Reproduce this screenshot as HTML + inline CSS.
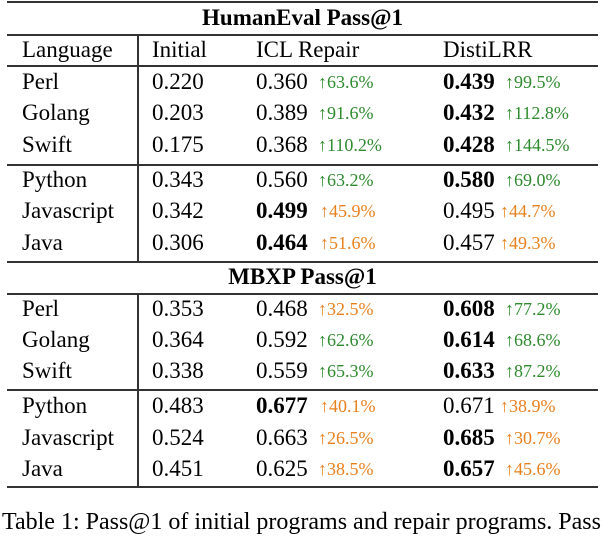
<!DOCTYPE html>
<html><head><meta charset="utf-8"><style>
body{margin:0;width:602px;height:522px;background:#fff;overflow:hidden;position:relative;font-family:"Liberation Serif","Times New Roman","DejaVu Serif",serif;color:#000}
.t{position:absolute;font-family:"Liberation Serif","Times New Roman","DejaVu Serif",serif;font-size:23px;line-height:32px;white-space:nowrap}
.b{font-weight:bold}
.g{color:#2e8b2e;font-size:18px}
.o{color:#e8801e;font-size:18px}
.h{position:absolute;left:7px;width:591px;background:#333}
.v{position:absolute;left:137px;width:1.5px;background:#333}
.c{position:absolute;left:7px;width:591px;text-align:center;font-weight:bold;font-size:23px;line-height:32px;font-family:"Liberation Serif","Times New Roman","DejaVu Serif",serif}
#cap{overflow:hidden;width:600px}
</style></head><body>
<div class="h" style="top:1px;height:2px"></div>
<div class="c" style="top:2px">HumanEval Pass@1</div>
<div class="h" style="top:34px;height:1.5px"></div>
<div class="h" style="top:65px;height:1.5px"></div>
<div class="h" style="top:164px;height:1.5px"></div>
<div class="h" style="top:261px;height:1.5px"></div>
<div class="c" style="top:261px">MBXP Pass@1</div>
<div class="h" style="top:293px;height:1.5px"></div>
<div class="h" style="top:389px;height:1.5px"></div>
<div class="h" style="top:486px;height:2px"></div>
<div class="v" style="top:35px;height:227px"></div>
<div class="v" style="top:294px;height:193px"></div>
<div id="tb"></div>
<div id="cap" class="t" style="left:2px;top:506px;font-size:24px">Table 1: Pass@1 of initial programs and repair programs. Pass@1 of</div>
<script>
const rows=[
["Language","Initial","ICL Repair","","DistiLRR","",50,false,false,"",""],
["Perl","0.220","0.360","↑63.6%","0.439","↑99.5%",82,false,true,"g","g"],
["Golang","0.203","0.389","↑91.6%","0.432","↑112.8%",113,false,true,"g","g"],
["Swift","0.175","0.368","↑110.2%","0.428","↑144.5%",145,false,true,"g","g"],
["Python","0.343","0.560","↑63.2%","0.580","↑69.0%",180,false,true,"g","g"],
["Javascript","0.342","0.499","↑45.9%","0.495","↑44.7%",211,true,false,"o","o"],
["Java","0.306","0.464","↑51.6%","0.457","↑49.3%",243,true,false,"o","o"],
["Perl","0.353","0.468","↑32.5%","0.608","↑77.2%",309,false,true,"o","g"],
["Golang","0.364","0.592","↑62.6%","0.614","↑68.6%",340,false,true,"g","g"],
["Swift","0.338","0.559","↑65.3%","0.633","↑87.2%",371,false,true,"g","g"],
["Python","0.483","0.677","↑40.1%","0.671","↑38.9%",406,true,false,"o","o"],
["Javascript","0.524","0.663","↑26.5%","0.685","↑30.7%",438,false,true,"o","o"],
["Java","0.451","0.625","↑38.5%","0.657","↑45.6%",469,false,true,"o","o"]];
const tb=document.getElementById('tb');
function add(txt,x,y,cls,name){const d=document.createElement('div');d.className='t '+cls;d.style.left=x+'px';d.style.top=(y-16)+'px';d.textContent=txt;


tb.appendChild(d);}
rows.forEach(r=>{const y=r[6];
add(r[0],22,y,'','language-cell');
add(r[1],152,y,'','initial-value');
add(r[2],256,y,r[7]?'b':'','icl-repair-value');
if(r[3])add(r[3],r[7]?320:318,y,r[9],'icl-improvement');
add(r[4],443,y,r[8]?'b':'','distilrr-value');
if(r[5])add(r[5],r[8]?505:500,y,r[10],'distilrr-improvement');});
</script>
</body></html>
